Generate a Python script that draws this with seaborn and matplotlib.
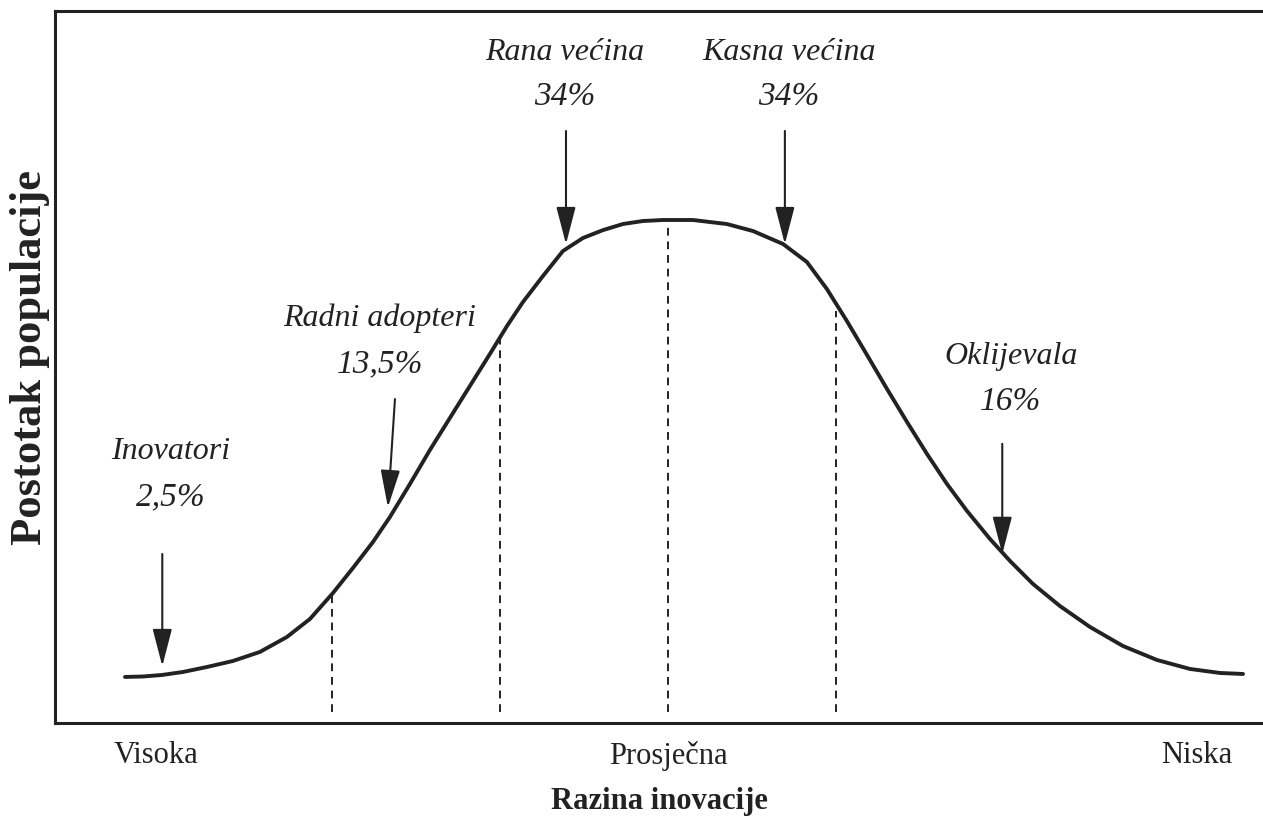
import pandas as pd
import matplotlib.pyplot as plt
import seaborn as sns

# curve: x in standard deviations from the mean, y relative height (peak = 100)
curve_x = [-3.232, -3.125, -3.012, -2.887, -2.744, -2.589, -2.429, -2.268, -2.131, -1.994,
           -1.875, -1.756, -1.655, -1.536, -1.417, -1.298, -1.179, -1.060, -0.958, -0.863,
           -0.744, -0.625, -0.506, -0.387, -0.268, -0.149, -0.030, 0.149, 0.351, 0.506,
           0.685, 0.827, 0.946, 1.065, 1.185, 1.304, 1.423, 1.542, 1.661, 1.780,
           1.917, 2.036, 2.173, 2.333, 2.512, 2.708, 2.911, 3.107, 3.286, 3.423]
curve_y = [9.15, 9.24, 9.54, 10.14, 11.13, 12.33, 14.12, 17.10, 20.68, 25.84,
           30.82, 35.98, 40.95, 47.51, 54.27, 60.64, 67.00, 73.36, 78.93, 83.70,
           88.87, 93.84, 96.42, 97.99, 99.20, 99.80, 100.0, 100.0, 99.20, 97.81,
           95.23, 91.65, 86.28, 79.92, 73.16, 66.40, 59.84, 53.48, 47.51, 42.15,
           36.58, 32.21, 27.63, 23.26, 19.09, 15.31, 12.52, 10.74, 9.94, 9.74]

# dashed separators (mean -2sd, -1sd, mean, +1sd) and where they touch the curve
dashed_x = [-2, -1, 0, 1]
dashed_top = [25.8, 77.0, 100.0, 82.0]

groups = ['Inovatori', 'Radni adopteri', 'Rana većina', 'Kasna većina', 'Oklijevala']
shares = ['2,5%', '13,5%', '34%', '34%', '16%']

x_ticks = [-3.05, 0, 3.15]
x_ticklabels = ['Visoka', 'Prosječna', 'Niska']

df = pd.DataFrame({'razina': curve_x, 'postotak': curve_y})

sns.set_theme(style='white')
plt.rcParams['font.family'] = ['Liberation Serif', 'DejaVu Serif']

ink = '#222222'
fig = plt.figure(figsize=(12.63, 8.29), dpi=100)
ax = fig.add_axes([0.0435, 0.1267, 0.9565, 0.8588])

sns.lineplot(data=df, x='razina', y='postotak', ax=ax, color=ink, linewidth=2.8)
ax.vlines(dashed_x, 2.2, dashed_top, colors=ink, linestyles=(0, (4, 3)), linewidth=1.4)

# label positions (x, name y, share y) and arrows (tail, tip)
lab_pos = [(-2.96, 54.1, 45.1), (-1.715, 80.7, 71.6), (-0.613, 133.6, 124.7),
           (0.72, 133.6, 124.7), (2.04, 73.0, 64.0)]
arrows = [((-3.01, 33.6), (-3.01, 11.3)), ((-1.625, 64.4), (-1.667, 42.9)),
          ((-0.607, 117.7), (-0.607, 95.2)), ((0.696, 117.7), (0.696, 95.2)),
          ((1.99, 55.5), (1.99, 33.6))]

for g, s, (lx, ny, sy), (tail, tip) in zip(groups, shares, lab_pos, arrows):
    ax.text(lx, ny, g, ha='center', va='center', fontsize=23, style='italic', color=ink)
    ax.text(lx, sy, s, ha='center', va='center', fontsize=24, style='italic', color=ink)
    ax.annotate('', xy=tip, xytext=tail,
                arrowprops=dict(arrowstyle='-|>,head_length=0.77,head_width=0.2',
                                mutation_scale=30, color=ink, lw=1.5,
                                shrinkA=0, shrinkB=0))

ax.set_xlim(-3.649, 3.542)
ax.set_ylim(0, 141.55)
ax.set_xticks(x_ticks)
ax.set_xticklabels(x_ticklabels, fontsize=22, color=ink)
ax.set_yticks([])
ax.tick_params(axis='x', length=0, pad=12)
ax.set_xlabel('Razina inovacije', fontsize=22, fontweight='bold', color=ink, labelpad=12)
ax.set_ylabel('Postotak populacije', fontsize=32, fontweight='bold', color=ink)
ax.yaxis.set_label_coords(-0.004, 0.515)

for side in ['left', 'top', 'bottom']:
    ax.spines[side].set_visible(True)
    ax.spines[side].set_color(ink)
    ax.spines[side].set_linewidth(2.2)
ax.spines['right'].set_visible(False)

fig.savefig('out.png', dpi=100)
